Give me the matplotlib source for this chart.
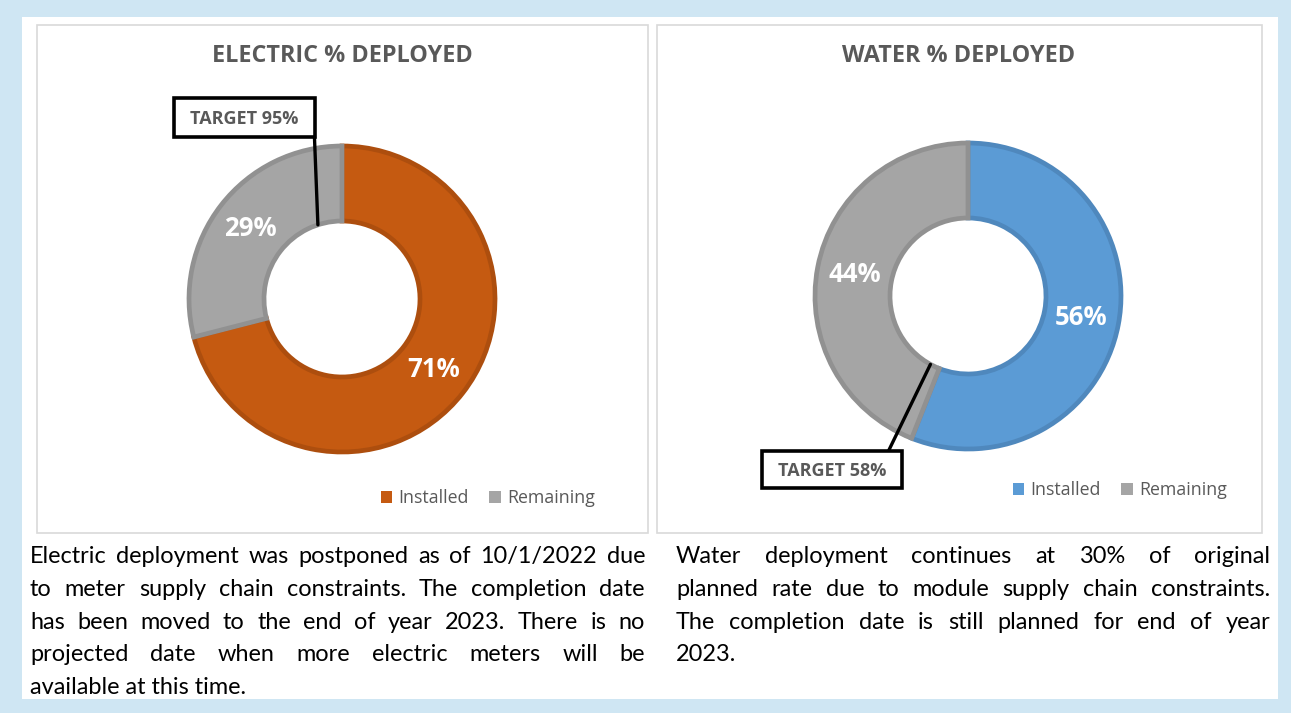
import matplotlib
matplotlib.use("Agg")
import matplotlib.pyplot as plt
from matplotlib.patches import Rectangle, Patch, ConnectionPatch
import numpy as np

# data
categories = ["Installed", "Remaining"]
electric_values = [71, 29]
water_values = [56, 44]
electric_target = 95
water_target = 58
titles = ["ELECTRIC % DEPLOYED", "WATER % DEPLOYED"]

electric_text = [
    "Electric deployment was postponed as of 10/1/2022 due",
    "to meter supply chain constraints. The completion date",
    "has been moved to the end of year 2023. There is no",
    "projected date when more electric meters will be",
    "available at this time.",
]
water_text = [
    "Water deployment continues at 30% of original",
    "planned rate due to module supply chain constraints.",
    "The completion date is still planned for end of year",
    "2023.",
]

GREY_TXT = "#595959"
ORANGE, ORANGE_EDGE = "#C55A11", "#AD4E0E"
BLUE, BLUE_EDGE = "#5B9BD5", "#4F88BD"
GREY, GREY_EDGE = "#A5A5A5", "#919191"
FRAME = "#CFE6F3"

W, H = 1291, 713
fig = plt.figure(figsize=(W / 100, H / 100), dpi=100)
fig.patch.set_facecolor(FRAME)

# pixel canvas, y going down
canvas = fig.add_axes([0, 0, 1, 1], zorder=0)
canvas.set_xlim(0, W)
canvas.set_ylim(H, 0)
canvas.axis("off")
canvas.add_patch(Rectangle((22, 17), 1256, 682, facecolor="white", edgecolor="none"))
canvas.add_patch(Rectangle((37, 25), 611, 508, facecolor="none", edgecolor="#D9D9D9", lw=1.2))
canvas.add_patch(Rectangle((657, 25), 605, 508, facecolor="none", edgecolor="#D9D9D9", lw=1.2))

top = fig.add_axes([0, 0, 1, 1], zorder=3)
top.set_xlim(0, W)
top.set_ylim(H, 0)
top.axis("off")
top.patch.set_visible(False)

R_OUT, R_IN = 153, 78
HALF = 160


def donut(cx, cy, values, colors, edges, target, box, anchor, legend_xy, title, title_x):
    ax = fig.add_axes([(cx - HALF) / W, (H - cy - HALF) / H, 2 * HALF / W, 2 * HALF / H], zorder=1)
    wedges, _, pcts = ax.pie(values, radius=R_OUT, startangle=90, counterclock=False,
                             colors=colors, autopct=lambda p: f"{p:.0f}%",
                             pctdistance=(R_OUT + R_IN) / 2 / R_OUT,
                             wedgeprops=dict(width=R_OUT - R_IN, linewidth=3.4),
                             textprops=dict(color="white", fontsize=18.5, fontweight="bold",
                                            family="Open Sans"))
    for w, e in zip(wedges, edges):
        w.set_edgecolor(e)
    ax.set_xlim(-HALF, HALF)
    ax.set_ylim(-HALF, HALF)

    # target leader + box
    ang = np.deg2rad(90 - 360 * target / 100)
    tx, ty = R_IN * np.cos(ang), R_IN * np.sin(ang)
    con = ConnectionPatch(xyA=anchor, coordsA=top.transData, xyB=(tx, ty), coordsB=ax.transData,
                          color="black", lw=2.4, zorder=2)
    top.add_artist(con)
    bx, by, bw, bh = box
    top.add_patch(Rectangle((bx, by), bw, bh, facecolor="white", edgecolor="black", lw=2.6, zorder=3))
    top.text(bx + bw / 2, by + bh / 2 + 1, f"TARGET {target}%", ha="center", va="center",
             fontsize=13, fontweight="bold", color=GREY_TXT, family="Open Sans", zorder=4)

    canvas.text(title_x, 56, title, ha="center", va="center", fontsize=16.8,
                fontweight="bold", color=GREY_TXT, family="Open Sans")

    handles = [Patch(facecolor=c, edgecolor="none") for c in colors]
    canvas.legend(handles, categories, ncol=2, frameon=False, loc="center",
                  bbox_to_anchor=legend_xy, bbox_transform=canvas.transData,
                  prop=dict(family="Open Sans", size=12.8), labelcolor=GREY_TXT,
                  handlelength=0.65, handleheight=0.65, handletextpad=0.35, columnspacing=1.15)


donut(342, 299, electric_values, [ORANGE, GREY], [ORANGE_EDGE, GREY_EDGE], electric_target,
      (174, 98, 141, 39), (313, 100), (488, 498), titles[0], 342)
leg1 = canvas.get_legend()
donut(968, 296, water_values, [BLUE, GREY], [BLUE_EDGE, GREY_EDGE], water_target,
      (762, 451, 140, 37), (888, 452), (1120, 490), titles[1], 959)
canvas.add_artist(leg1)

# justified paragraphs
renderer = fig.canvas.get_renderer()
PFONT = "Lato"


def width_of(s, size):
    t = canvas.text(0, 0, s, fontsize=size, family=PFONT)
    w = t.get_window_extent(renderer=renderer).width
    t.remove()
    return w


base = 17
paras = [(electric_text, 30, 645), (water_text, 676, 1270)]
scale = min((x1 - x0) / width_of(l, base) for lines, x0, x1 in paras for l in lines[:-1])
psize = base * min(scale, 1.0) * 0.995


def justify(lines, x0, x1, y0, pitch):
    for i, line in enumerate(lines):
        y = y0 + i * pitch
        if i == len(lines) - 1:
            canvas.text(x0, y, line, fontsize=psize, family=PFONT, va="baseline", color="black")
            continue
        words = line.split()
        widths = [width_of(w, psize) for w in words]
        gap = (x1 - x0 - sum(widths)) / (len(words) - 1)
        x = x0
        for w, wd in zip(words, widths):
            canvas.text(x, y, w, fontsize=psize, family=PFONT, va="baseline", color="black")
            x += wd + gap


justify(electric_text, 30, 645, 563, 32.8)
justify(water_text, 676, 1270, 563, 32.8)

fig.savefig("out.png", dpi=100, facecolor=fig.get_facecolor())
